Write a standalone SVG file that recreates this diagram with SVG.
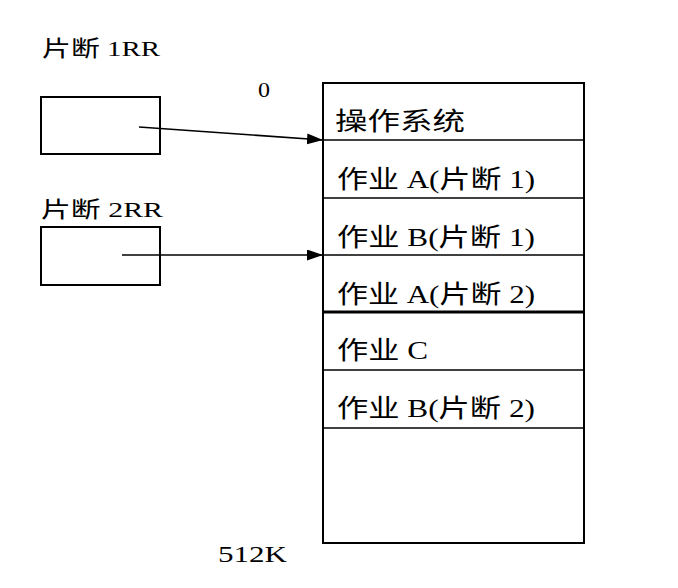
<svg xmlns="http://www.w3.org/2000/svg" width="678" height="588" viewBox="0 0 678 588">
<style>
.t{font-family:"Liberation Serif","Noto Sans CJK SC",serif;fill:#000;}
.box{fill:none;stroke:#000;stroke-width:2;}
.div{stroke:#000;stroke-width:1.6;}
.conn{stroke:#000;stroke-width:1.6;fill:none;}
</style>
<defs>
<marker id="ah" markerUnits="userSpaceOnUse" markerWidth="18" markerHeight="12" refX="16" refY="5.5" orient="auto">
<path d="M0,0 L16,5.5 L0,11 Z" fill="#000"/>
</marker>
</defs>
<rect width="678" height="588" fill="#fff"/>
<g id="seg1">
<text class="t" x="42" y="56" font-size="22" textLength="118" lengthAdjust="spacingAndGlyphs">片断 1RR</text>
<rect class="box" x="41" y="97" width="119" height="57"/>
</g>
<g id="seg2">
<text class="t" x="41" y="217" font-size="22" textLength="122" lengthAdjust="spacingAndGlyphs">片断 2RR</text>
<rect class="box" x="41" y="227" width="119" height="58"/>
</g>
<g id="label0">
<text class="t" x="258" y="97" font-size="21" textLength="12" lengthAdjust="spacingAndGlyphs">0</text>
</g>
<g id="label512">
<text class="t" x="218" y="562" font-size="24" textLength="69" lengthAdjust="spacingAndGlyphs">512K</text>
</g>
<g id="memory">
<rect class="box" x="323" y="83" width="261" height="460"/>
<line class="div" x1="323" y1="140" x2="584" y2="140"/>
<line class="div" x1="323" y1="198" x2="584" y2="198"/>
<line class="div" x1="323" y1="255" x2="584" y2="255"/>
<line stroke="#000" stroke-width="3" x1="323" y1="312" x2="584" y2="312"/>
<line class="div" x1="323" y1="370" x2="584" y2="370"/>
<line class="div" x1="323" y1="428" x2="584" y2="428"/>
<text class="t" x="335" y="130" font-size="25" textLength="130" lengthAdjust="spacingAndGlyphs">操作系统</text>
<text class="t" x="337" y="188" font-size="25" textLength="198" lengthAdjust="spacingAndGlyphs">作业 A(片断 1)</text>
<text class="t" x="337" y="246" font-size="25" textLength="198" lengthAdjust="spacingAndGlyphs">作业 B(片断 1)</text>
<text class="t" x="337" y="303" font-size="25" textLength="198" lengthAdjust="spacingAndGlyphs">作业 A(片断 2)</text>
<text class="t" x="337" y="359" font-size="25" textLength="91" lengthAdjust="spacingAndGlyphs">作业 C</text>
<text class="t" x="337" y="417" font-size="25" textLength="198" lengthAdjust="spacingAndGlyphs">作业 B(片断 2)</text>
</g>
<g id="connectors">
<line class="conn" x1="139" y1="127" x2="323" y2="140" marker-end="url(#ah)"/>
<line class="conn" x1="122" y1="255" x2="323" y2="255" marker-end="url(#ah)"/>
</g>
</svg>
